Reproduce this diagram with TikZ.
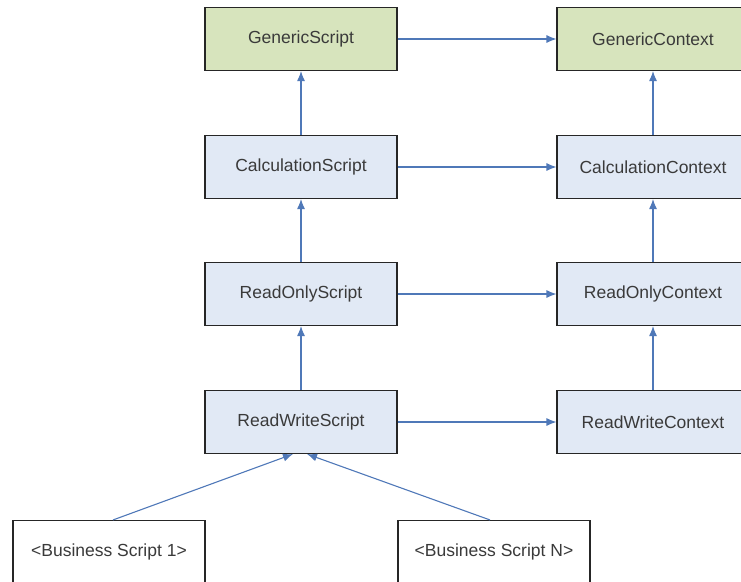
\documentclass[tikz,border=0pt]{standalone}
\usepackage{fontspec}
\setmainfont{Liberation Sans}
\usetikzlibrary{arrows.meta}
\definecolor{genfill}{HTML}{D7E4BD}
\definecolor{clsfill}{HTML}{E1E9F5}
\definecolor{linkblue}{HTML}{4F78B8}
\definecolor{txtgray}{HTML}{3A3A3A}
\begin{document}
\begin{tikzpicture}[
          x=1pt, y=-1pt,
          box/.style={draw=black!85, line width=1.1pt, minimum width=192pt, minimum height=63pt,
            inner sep=0pt, text=txtgray, font=\fontsize{17.5}{20}\selectfont},
          generic/.style={box, fill=genfill},
          cls/.style={box, fill=clsfill},
          biz/.style={box, fill=white},
          link/.style={draw=linkblue, line width=1.1pt, -{Latex[length=10pt,width=8pt]}}
        ]
        \clip (0,0) rectangle (741,581);
        \useasboundingbox (0,0) rectangle (741,581);
        \node[generic] (gs) at (301,39) {GenericScript};
        \node[generic] (gc) at (653,39) {GenericContext};
        \node[cls] (cs) at (301,167) {CalculationScript};
        \node[cls] (cc) at (653,167) {CalculationContext};
        \node[cls] (ros) at (301,294) {ReadOnlyScript};
        \node[cls] (roc) at (653,294) {ReadOnlyContext};
        \node[cls] (rws) at (301,422) {ReadWriteScript};
        \node[cls] (rwc) at (653,422) {ReadWriteContext};
        \node[biz] (b1) at (109,552) {<Business Script 1>};
        \node[biz] (bn) at (494,552) {<Business Script N>};
        % script side
        \draw[link] (cs) -- (gs);
        \draw[link] (ros) -- (cs);
        \draw[link] (rws) -- (ros);
        % context side
        \draw[link] (cc) -- (gc);
        \draw[link] (roc) -- (cc);
        \draw[link] (rwc) -- (roc);
        % script to context
        \draw[link] (gs) -- (gc);
        \draw[link] (cs) -- (cc);
        \draw[link] (ros) -- (roc);
        \draw[link] (rws) -- (rwc);
        % business scripts
        \draw[link] ([xshift=4pt]b1.north) -- ([xshift=-8pt]rws.south);
        \draw[link] ([xshift=-4pt]bn.north) -- ([xshift=6pt]rws.south);
        \end{tikzpicture}
\end{document}
